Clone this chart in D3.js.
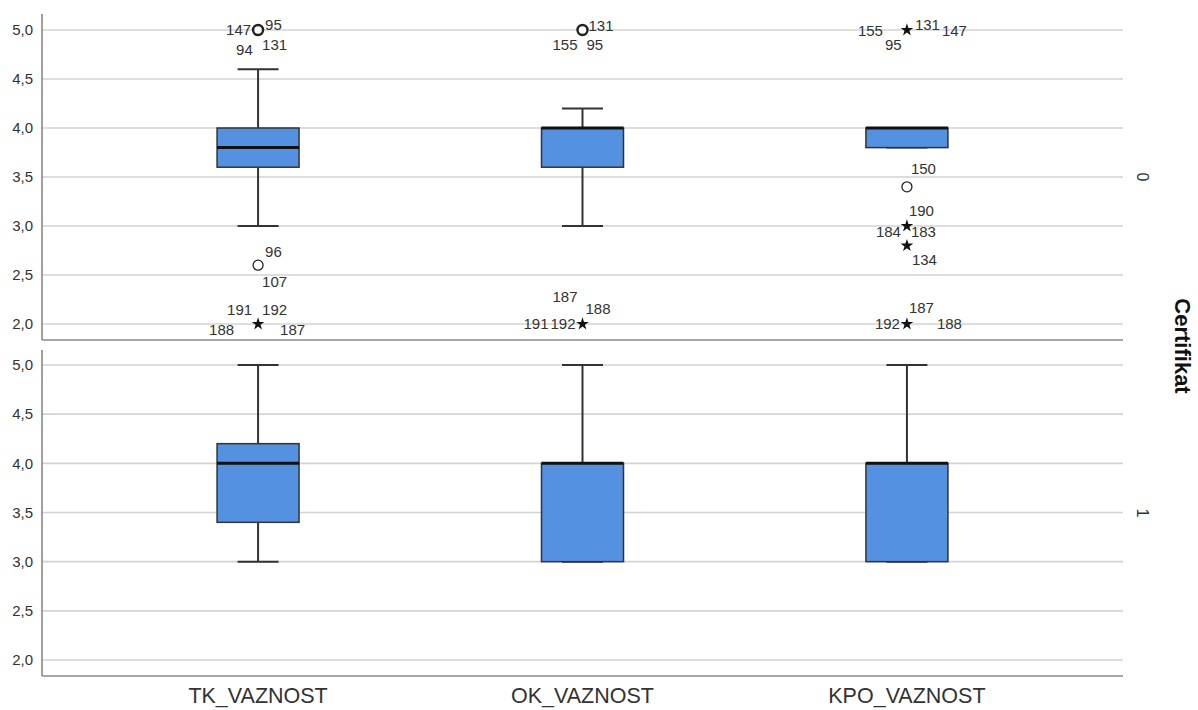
<!DOCTYPE html>
<html><head><meta charset="utf-8">
<script src="https://cdn.jsdelivr.net/npm/d3@7"></script>
<style>
html,body{margin:0;padding:0;background:#fff;}
svg{display:block;font-family:"Liberation Sans",Arial,sans-serif;}
</style></head>
<body><svg id="c" width="1198" height="710"></svg>
<script>
// ---- data ----
const categories = ["TK_VAZNOST", "OK_VAZNOST", "KPO_VAZNOST"];
const groups = ["0", "1"];
const groupTitle = "Certifikat";
const yTicks = [2.0, 2.5, 3.0, 3.5, 4.0, 4.5, 5.0];
// box stats per group, order of categories
const whiskerLow  = { "0": [3.0, 3.0, 3.8], "1": [3.0, 3.0, 3.0] };
const q1          = { "0": [3.6, 3.6, 3.8], "1": [3.4, 3.0, 3.0] };
const median      = { "0": [3.8, 4.0, 4.0], "1": [4.0, 4.0, 4.0] };
const q3          = { "0": [4.0, 4.0, 4.0], "1": [4.2, 4.0, 4.0] };
const whiskerHigh = { "0": [4.6, 4.2, 4.0], "1": [5.0, 5.0, 5.0] };
// outliers (all in group "0")
const outlierCat   = ["TK_VAZNOST","TK_VAZNOST","TK_VAZNOST","OK_VAZNOST","OK_VAZNOST","KPO_VAZNOST","KPO_VAZNOST","KPO_VAZNOST","KPO_VAZNOST","KPO_VAZNOST"];
const outlierGroup = ["0","0","0","0","0","0","0","0","0","0"];
const outlierValue = [5.0, 2.6, 2.0, 5.0, 2.0, 5.0, 3.4, 3.0, 2.8, 2.0];
const outlierType  = ["circle","circle","star","circle","star","star","circle","star","star","star"];
const outlierIds   = [["147","95","94","131"],["96","107"],["191","192","188","187"],["131","155","95"],["191","192","187","188"],["155","95","131","147"],["150"],["190","184","183"],["134"],["187","192","188"]];

// ---- layout (label offsets from marker centre, px) ----
const labelOffsets = [
  [[-32,-1],[7,-6],[-22,19],[4,14]],
  [[7,-14],[4,16]],
  [[-31,-15],[4,-15],[-49,5],[22,5]],
  [[6,-5],[-30,14],[4,14]],
  [[-59,-1],[-32,-1],[-30,-28],[3,-16]],
  [[-49,0],[-22,14],[8,-6],[35,0]],
  [[4,-18]],
  [[2,-16],[-31,5],[4,5]],
  [[5,14]],
  [[2,-17],[-32,-1],[30,-1]]
];

const svg = d3.select("#c");
const left = 42, right = 1123;
const panels = { "0": {top: 14, bottom: 340, y5: 30, y2: 324}, "1": {top: 350, bottom: 676, y5: 365, y2: 660} };

const x = d3.scalePoint().domain(categories).range([left, right]).padding(0.666);
const yScale = {};
groups.forEach(g => { yScale[g] = d3.scaleLinear().domain([2, 5]).range([panels[g].y2, panels[g].y5]); });

const boxW = 82, capW = 41;
const fill = "#5591e1", stroke = "#333";

groups.forEach(g => {
  const p = panels[g], y = yScale[g];
  const G = svg.append("g");
  // gridlines
  G.selectAll("line.grid").data(yTicks).join("line")
    .attr("x1", left).attr("x2", right)
    .attr("y1", d => y(d)).attr("y2", d => y(d))
    .attr("stroke", "#d3d3d3").attr("stroke-width", 1.6);
  // axis
  const ax = G.append("g").attr("transform", `translate(${left},0)`)
    .call(d3.axisLeft(y).tickValues(yTicks).tickSize(0).tickPadding(9)
      .tickFormat(d => d3.format(".1f")(d).replace(".", ",")));
  ax.select(".domain").remove();
  ax.selectAll("text").attr("font-size", 15).attr("fill", "#333")
    .attr("font-family", "'Liberation Sans',Arial,sans-serif");
  G.append("line").attr("x1", left).attr("x2", left).attr("y1", p.top).attr("y2", p.bottom)
    .attr("stroke", "#888").attr("stroke-width", 1.6);
  G.append("line").attr("x1", left).attr("x2", right).attr("y1", p.bottom).attr("y2", p.bottom)
    .attr("stroke", "#888").attr("stroke-width", 1.6);

  // boxes
  categories.forEach((c, i) => {
    const cx = x(c);
    G.append("line").attr("x1", cx).attr("x2", cx)
      .attr("y1", y(whiskerLow[g][i])).attr("y2", y(whiskerHigh[g][i]))
      .attr("stroke", stroke).attr("stroke-width", 2);
    [whiskerLow[g][i], whiskerHigh[g][i]].forEach(v => {
      G.append("line").attr("x1", cx - capW/2).attr("x2", cx + capW/2)
        .attr("y1", y(v)).attr("y2", y(v)).attr("stroke", stroke).attr("stroke-width", 2);
    });
    G.append("rect").attr("x", cx - boxW/2).attr("width", boxW)
      .attr("y", y(q3[g][i])).attr("height", Math.max(0, y(q1[g][i]) - y(q3[g][i])))
      .attr("fill", fill).attr("stroke", stroke).attr("stroke-width", 1.5);
    G.append("line").attr("x1", cx - boxW/2).attr("x2", cx + boxW/2)
      .attr("y1", y(median[g][i])).attr("y2", y(median[g][i]))
      .attr("stroke", "#111").attr("stroke-width", 3);
  });

  // group label
  svg.append("text").attr("transform", `translate(1137,${(p.top + p.bottom)/2}) rotate(90)`)
    .attr("text-anchor", "middle").attr("font-size", 16).attr("fill", "#333").text(g);
});

// outliers
outlierValue.forEach((v, k) => {
  const g = outlierGroup[k], y = yScale[g];
  const cx = x(outlierCat[k]), cy = y(v);
  if (outlierType[k] === "circle") {
    svg.append("circle").attr("cx", cx).attr("cy", cy).attr("r", 5)
      .attr("fill", "#fff").attr("stroke", "#222")
      .attr("stroke-width", outlierIds[k].length >= 3 ? 2.4 : 1.3);
  } else {
    svg.append("path").attr("d", d3.symbol(d3.symbolStar, 50)())
      .attr("transform", `translate(${cx},${cy})`).attr("fill", "#111");
  }
  outlierIds[k].forEach((id, j) => {
    const o = labelOffsets[k][j];
    svg.append("text").attr("x", cx + o[0]).attr("y", cy + o[1])
      .attr("dominant-baseline", "central").attr("font-size", 15).attr("fill", "#333").text(id);
  });
});

// category labels
svg.append("g").selectAll("text").data(categories).join("text")
  .attr("x", d => x(d)).attr("y", 703).attr("text-anchor", "middle")
  .attr("font-size", 21.5).attr("fill", "#333").text(d => d);

// group title
svg.append("text").attr("transform", `translate(1175,346) rotate(90)`)
  .attr("text-anchor", "middle").attr("font-size", 22).attr("font-weight", "bold")
  .attr("fill", "#111").text(groupTitle);
</script></body></html>
